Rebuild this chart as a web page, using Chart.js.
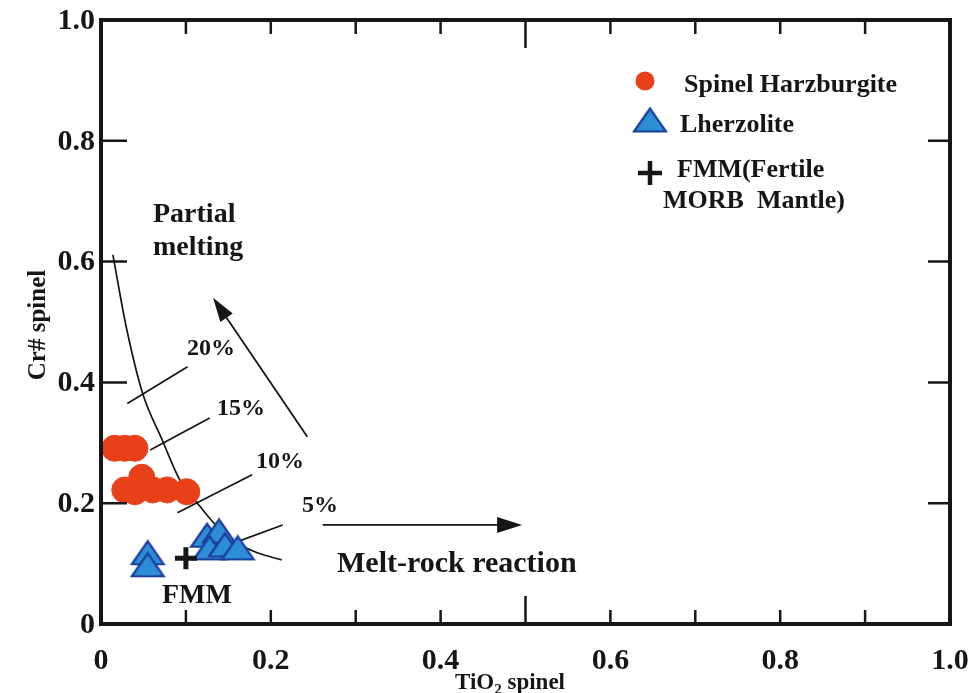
<!DOCTYPE html>
<html>
<head>
<meta charset="utf-8">
<script src="https://cdn.jsdelivr.net/npm/chart.js@4.4.1/dist/chart.umd.min.js"></script>
<style>
  html, body { margin: 0; padding: 0; background: #ffffff; }
  #wrap { width: 968px; height: 693px; }
</style>
</head>
<body>
<div id="wrap"><canvas id="c" width="968" height="693"></canvas></div>
<script>
// ---------------- data ----------------
const harzX = [0.016, 0.028, 0.040, 0.028, 0.048, 0.040, 0.061, 0.078, 0.101];
const harzY = [0.291, 0.291, 0.291, 0.222, 0.243, 0.219, 0.222, 0.222, 0.219];

const lherzX = [0.055, 0.055, 0.125, 0.139, 0.128, 0.146, 0.161];
const lherzY = [0.118, 0.098, 0.147, 0.154, 0.126, 0.131, 0.126];

const fmmX = [0.100];
const fmmY = [0.109];

// partial melting curve
const curveX = [0.014, 0.030, 0.049, 0.072, 0.093, 0.117, 0.137, 0.160, 0.184, 0.213];
const curveY = [0.611, 0.490, 0.382, 0.305, 0.238, 0.194, 0.161, 0.134, 0.118, 0.106];

// melting-degree tie lines
const tie20X = [0.031, 0.102]; const tie20Y = [0.365, 0.426];
const tie15X = [0.058, 0.128]; const tie15Y = [0.288, 0.341];
const tie10X = [0.090, 0.178]; const tie10Y = [0.184, 0.247];
const tie5X  = [0.160, 0.214]; const tie5Y  = [0.136, 0.164];

// arrows [tail, head]
const meltArrowX = [0.243, 0.132]; const meltArrowY = [0.310, 0.540];
const rockArrowX = [0.261, 0.496]; const rockArrowY = [0.164, 0.164];

// ticks
const xTickValues = [0, 0.2, 0.4, 0.6, 0.8, 1.0];
const xTickLabels = ['0', '0.2', '0.4', '0.6', '0.8', '1.0'];
const yTickValues = [0, 0.2, 0.4, 0.6, 0.8, 1.0];
const yTickLabels = ['0', '0.2', '0.4', '0.6', '0.8', '1.0'];
const xMinorTicks = [0.1, 0.2, 0.3, 0.4, 0.6, 0.7, 0.8, 0.9];
const xMajorTicks = [0.5];
const yMajorTicks = [0.2, 0.4, 0.6, 0.8];

// texts
const seriesNames = ['Spinel Harzburgite', 'Lherzolite', 'FMM(Fertile', 'MORB  Mantle)'];
const xTitle = ['TiO', '2', ' spinel'];
const yTitle = 'Cr# spinel';
const pctLabels = ['20%', '15%', '10%', '5%'];
const noteLabels = ['Partial', 'melting', 'Melt-rock reaction', 'FMM'];

// ---------------- styles ----------------
const RED = '#e8411a';
const BLUE_FILL = '#2b8ed6';
const BLUE_EDGE = '#1c3f9c';
const INK = '#161616';
const SERIF = '"Liberation Serif", "Times New Roman", serif';

function triangleImage() {
  const w = 36, h = 27;
  const cv = document.createElement('canvas');
  cv.width = w; cv.height = h;
  const c = cv.getContext('2d');
  c.beginPath();
  c.moveTo(2, h - 2);
  c.lineTo(w / 2, 2);
  c.lineTo(w - 2, h - 2);
  c.closePath();
  c.fillStyle = BLUE_FILL;
  c.fill();
  c.lineWidth = 2.2;
  c.strokeStyle = BLUE_EDGE;
  c.stroke();
  return cv;
}
const triImg = triangleImage();

const pts = (xs, ys) => xs.map((x, i) => ({ x: x, y: ys[i] }));
const lineDs = (xs, ys, extra) => Object.assign({
  data: pts(xs, ys), showLine: true, pointRadius: 0, borderColor: INK,
  borderWidth: 1.7, fill: false, tension: 0
}, extra || {});

// ---------------- custom drawing plugin ----------------
const decor = {
  id: 'decor',
  afterDraw(chart) {
    const ctx = chart.ctx;
    const xs = chart.scales.x, ys = chart.scales.y;
    const X = v => xs.getPixelForValue(v);
    const Y = v => ys.getPixelForValue(v);
    const L = X(0), R = X(1), T = Y(1), B = Y(0);
    ctx.save();

    // frame
    ctx.strokeStyle = INK;
    ctx.lineWidth = 4;
    ctx.lineCap = 'square';
    ctx.strokeRect(L, T, R - L, B - T);

    // inner ticks
    ctx.lineWidth = 2.5;
    ctx.lineCap = 'butt';
    ctx.beginPath();
    xMinorTicks.forEach(v => {
      ctx.moveTo(X(v), B); ctx.lineTo(X(v), B - 14);
      ctx.moveTo(X(v), T); ctx.lineTo(X(v), T + 14);
    });
    xMajorTicks.forEach(v => {
      ctx.moveTo(X(v), B); ctx.lineTo(X(v), B - 28);
      ctx.moveTo(X(v), T); ctx.lineTo(X(v), T + 28);
    });
    yMajorTicks.forEach(v => {
      ctx.moveTo(L, Y(v)); ctx.lineTo(L + 26, Y(v));
      ctx.moveTo(R, Y(v)); ctx.lineTo(R - 22, Y(v));
    });
    ctx.stroke();

    // tick labels
    ctx.fillStyle = INK;
    ctx.font = 'bold 30px ' + SERIF;
    ctx.textBaseline = 'middle';
    ctx.textAlign = 'right';
    yTickValues.forEach((v, i) => ctx.fillText(yTickLabels[i], L - 6, Y(v) + 1));
    ctx.textAlign = 'center';
    xTickValues.forEach((v, i) => ctx.fillText(xTickLabels[i], X(v), B + 37));

    // arrows
    function arrow(ax, ay, hl, hw) {
      const x1 = X(ax[0]), y1 = Y(ay[0]), x2 = X(ax[1]), y2 = Y(ay[1]);
      const a = Math.atan2(y2 - y1, x2 - x1);
      ctx.lineWidth = 1.8;
      ctx.beginPath();
      ctx.moveTo(x1, y1);
      ctx.lineTo(x2 - Math.cos(a) * hl * 0.8, y2 - Math.sin(a) * hl * 0.8);
      ctx.stroke();
      ctx.beginPath();
      ctx.moveTo(x2, y2);
      ctx.lineTo(x2 - Math.cos(a) * hl + Math.sin(a) * hw / 2, y2 - Math.sin(a) * hl - Math.cos(a) * hw / 2);
      ctx.lineTo(x2 - Math.cos(a) * hl - Math.sin(a) * hw / 2, y2 - Math.sin(a) * hl + Math.cos(a) * hw / 2);
      ctx.closePath();
      ctx.fillStyle = INK;
      ctx.fill();
    }
    arrow(meltArrowX, meltArrowY, 24, 15);
    arrow(rockArrowX, rockArrowY, 25, 16);

    // annotation texts
    ctx.fillStyle = INK;
    ctx.textBaseline = 'alphabetic';
    ctx.textAlign = 'left';
    ctx.font = 'bold 28px ' + SERIF;
    ctx.fillText(noteLabels[0], 153, 222);
    ctx.fillText(noteLabels[1], 153, 255);
    ctx.fillText(noteLabels[3], 162, 603);
    ctx.font = 'bold 30px ' + SERIF;
    ctx.fillText(noteLabels[2], 337, 572);
    ctx.font = 'bold 24px ' + SERIF;
    ctx.fillText(pctLabels[0], 187, 355);
    ctx.fillText(pctLabels[1], 217, 415);
    ctx.fillText(pctLabels[2], 256, 468);
    ctx.fillText(pctLabels[3], 302, 512);

    // legend
    ctx.fillStyle = RED;
    ctx.beginPath(); ctx.arc(645, 81, 9.5, 0, Math.PI * 2); ctx.fill();
    ctx.drawImage(triImg, 650 - triImg.width / 2, 120 - triImg.height / 2);
    ctx.strokeStyle = INK; ctx.lineWidth = 4.5;
    ctx.beginPath();
    ctx.moveTo(638, 173); ctx.lineTo(662, 173);
    ctx.moveTo(650, 161); ctx.lineTo(650, 185);
    ctx.stroke();
    ctx.fillStyle = INK;
    ctx.font = 'bold 26px ' + SERIF;
    ctx.fillText(seriesNames[0], 684, 92);
    ctx.fillText(seriesNames[1], 680, 132);
    ctx.fillText(seriesNames[2], 677, 177);
    ctx.fillText(seriesNames[3], 663, 208);

    // axis titles
    ctx.save();
    ctx.translate(45, 325);
    ctx.rotate(-Math.PI / 2);
    ctx.textAlign = 'center';
    ctx.font = 'bold 25px ' + SERIF;
    ctx.fillText(yTitle, 0, 0);
    ctx.restore();

    ctx.font = 'bold 23px ' + SERIF;
    const w0 = ctx.measureText(xTitle[0]).width;
    const w2 = ctx.measureText(xTitle[2]).width;
    ctx.font = 'bold 15px ' + SERIF;
    const w1 = ctx.measureText(xTitle[1]).width;
    const sx = 510 - (w0 + w1 + w2) / 2;
    ctx.font = 'bold 23px ' + SERIF;
    ctx.fillText(xTitle[0], sx, 689);
    ctx.font = 'bold 15px ' + SERIF;
    ctx.fillText(xTitle[1], sx + w0, 694);
    ctx.font = 'bold 23px ' + SERIF;
    ctx.fillText(xTitle[2], sx + w0 + w1, 689);

    ctx.restore();
  }
};

new Chart(document.getElementById('c'), {
  type: 'scatter',
  data: {
    datasets: [
      { label: seriesNames[2], data: pts(fmmX, fmmY), pointStyle: 'cross', pointRadius: 11,
        borderColor: INK, borderWidth: 5, backgroundColor: INK },
      { label: seriesNames[1], data: pts(lherzX, lherzY), pointStyle: triImg },
      { label: seriesNames[0], data: pts(harzX, harzY), pointStyle: 'circle', pointRadius: 13,
        backgroundColor: RED, borderColor: RED, borderWidth: 1 },
      lineDs(curveX, curveY, { cubicInterpolationMode: 'monotone' }),
      lineDs(tie20X, tie20Y),
      lineDs(tie15X, tie15Y),
      lineDs(tie10X, tie10Y),
      lineDs(tie5X, tie5Y)
    ]
  },
  options: {
    responsive: false,
    devicePixelRatio: 1,
    animation: false,
    events: [],
    layout: { padding: { left: 0, top: 20, right: 18, bottom: 0 } },
    plugins: { legend: { display: false }, tooltip: { enabled: false }, title: { display: false } },
    scales: {
      x: {
        type: 'linear', min: 0, max: 1,
        grid: { display: false, drawTicks: false },
        border: { display: false },
        afterBuildTicks: s => { s.ticks = xTickValues.map(v => ({ value: v })); },
        afterFit: s => { s.height = 69; },
        ticks: { display: false }
      },
      y: {
        type: 'linear', min: 0, max: 1,
        grid: { display: false, drawTicks: false },
        border: { display: false },
        afterBuildTicks: s => { s.ticks = yTickValues.map(v => ({ value: v })); },
        afterFit: s => { s.width = 101; },
        ticks: { display: false }
      }
    }
  },
  plugins: [decor]
});
</script>
</body>
</html>
